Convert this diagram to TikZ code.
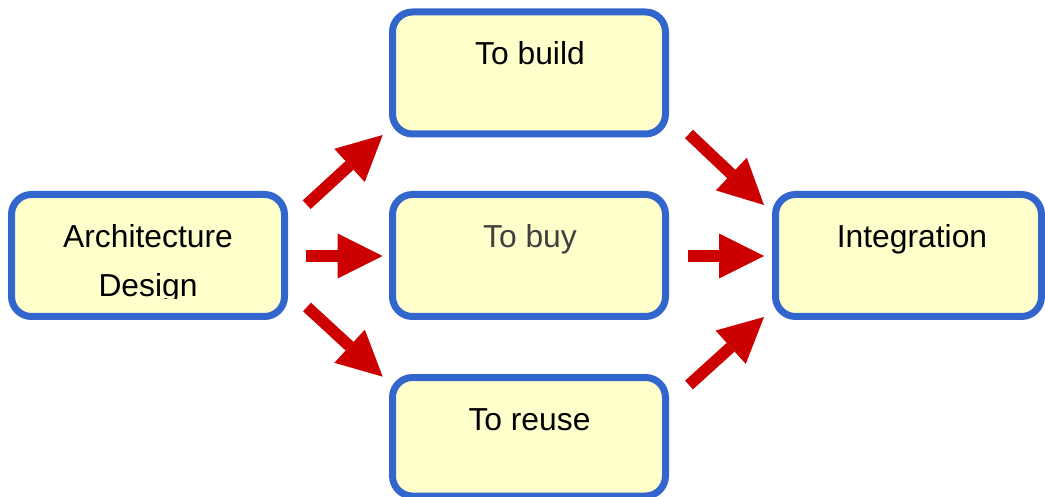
\documentclass[tikz,border=0pt]{standalone}
\usepackage{fontspec}
\setmainfont{Liberation Sans}
\usetikzlibrary{arrows.meta,calc}
\definecolor{boxblue}{HTML}{3366CC}
\definecolor{boxfill}{HTML}{FFFFCC}
\definecolor{arrred}{HTML}{CC0000}
\definecolor{graytext}{HTML}{404040}
\begin{document}
\begin{tikzpicture}[x=1pt,y=-1pt,
  box/.style={draw=boxblue, line width=7pt, fill=boxfill, rounded corners=20pt,
    minimum width=273pt, minimum height=122pt, inner sep=0pt, outer sep=0pt},
  lbl/.style={anchor=base, font=\fontsize{31.8}{38}\selectfont, inner sep=0pt},
  arr/.style={draw=arrred, line width=11.7pt,
    -{Triangle[width=45pt,length=45pt,line width=0pt]}}
]
\useasboundingbox (0,0) rectangle (1045,497);
\node[box] (arch) at (148,255.5) {};
\node[box] (build) at (529,73) {};
\node[box] (buy) at (529,255.5) {};
\node[box, minimum height=118.5pt] (reuse) at (529,436.75) {};
\node[box, minimum width=266pt] (integ) at (908.5,255.5) {};

\node[lbl] (tbuild) at (530,65) {To build};
\node[lbl, text=graytext] (tbuy) at (530,248) {To buy};
\node[lbl] (treuse) at (529.5,430) {To reuse};
\node[lbl] (tinteg) at (912,248) {Integration};
\node[lbl] (tarch1) at (148,248) {Architecture};
\begin{scope}
  \clip (0,0) rectangle (1045,298.5);
  \node[lbl] (tarch2) at (148,297) {Design};
\end{scope}

\coordinate (a1s) at (306.7,204.7); \coordinate (a1e) at (382.7,135);
\coordinate (a2s) at (306,256);     \coordinate (a2e) at (382.7,256);
\coordinate (a3s) at (307,307);     \coordinate (a3e) at (382.7,376.7);
\coordinate (b1s) at (689,134);     \coordinate (b1e) at (764,205);
\coordinate (b2s) at (688,256);     \coordinate (b2e) at (764,256);
\coordinate (b3s) at (689,385);     \coordinate (b3e) at (764,317);
\draw[arr] (a1s) -- (a1e);
\draw[arr] (a2s) -- (a2e);
\draw[arr] (a3s) -- (a3e);
\draw[arr] (b1s) -- (b1e);
\draw[arr] (b2s) -- (b2e);
\draw[arr] (b3s) -- (b3e);
\end{tikzpicture}
\end{document}
